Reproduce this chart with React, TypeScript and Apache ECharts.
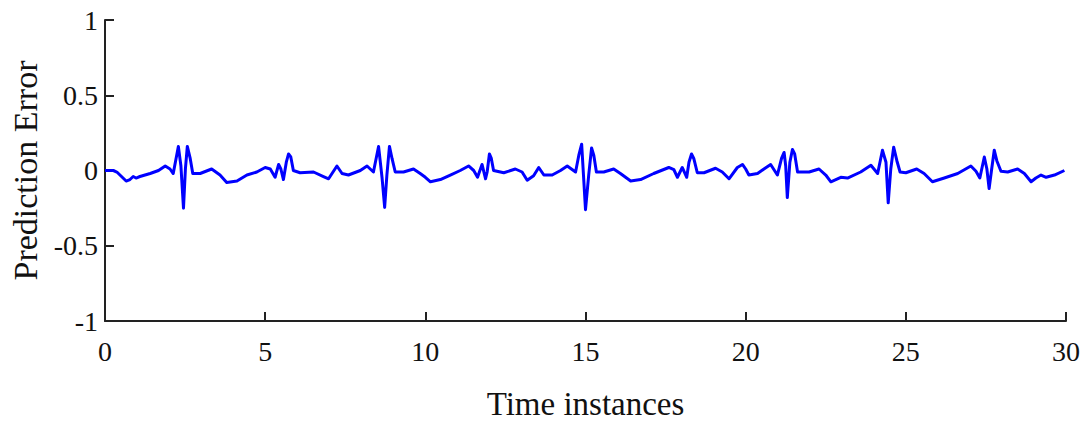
import React, { useEffect, useRef } from "react";
import * as echarts from "echarts";

const timeValues: number[] = [
  0.0, 0.26, 0.37, 0.66, 0.78, 0.88, 0.97, 1.09, 1.41, 1.67, 1.88, 2.03, 2.13, 2.29, 2.37, 2.45, 2.51, 2.57, 2.66, 2.74,
  2.97, 3.33, 3.59, 3.8, 4.12, 4.43, 4.74, 5.0, 5.16, 5.31, 5.42, 5.49, 5.57, 5.66, 5.73, 5.8, 5.88, 6.09, 6.51, 6.82,
  6.98, 7.24, 7.4, 7.6, 7.97, 8.18, 8.38, 8.54, 8.65, 8.73, 8.8, 8.88, 8.96, 9.06, 9.32, 9.63, 9.84, 10.0, 10.16, 10.47,
  10.78, 11.09, 11.35, 11.51, 11.63, 11.77, 11.88, 11.93, 12.0, 12.06, 12.13, 12.45, 12.81, 13.02, 13.18, 13.38, 13.54,
  13.7, 13.96, 14.22, 14.43, 14.69, 14.79, 14.88, 15.0, 15.1, 15.19, 15.26, 15.34, 15.57, 15.88, 16.09, 16.41, 16.72,
  17.13, 17.6, 17.76, 17.87, 18.02, 18.16, 18.23, 18.31, 18.38, 18.49, 18.7, 19.06, 19.27, 19.48, 19.74, 19.9, 20.0,
  20.1, 20.37, 20.57, 20.78, 20.99, 21.12, 21.2, 21.25, 21.3, 21.38, 21.46, 21.53, 21.62, 21.98, 22.29, 22.5, 22.66,
  22.97, 23.18, 23.59, 23.91, 24.12, 24.27, 24.38, 24.45, 24.53, 24.62, 24.72, 24.82, 25.0, 25.34, 25.57, 25.83, 26.2,
  26.62, 27.03, 27.19, 27.31, 27.45, 27.53, 27.6, 27.68, 27.76, 27.84, 27.97, 28.18, 28.49, 28.7, 28.91, 29.06, 29.22,
  29.38, 29.64, 29.95,
];

const errorValues: number[] = [
  0.0, 0.0, -0.01, -0.07, -0.06, -0.04, -0.05, -0.04, -0.02, 0.0, 0.03, 0.01, -0.02, 0.16, 0.03, -0.25, 0.01, 0.16, 0.08, -0.02,
  -0.02, 0.01, -0.03, -0.08, -0.07, -0.03, -0.01, 0.02, 0.01, -0.045, 0.04, 0.01, -0.06, 0.055, 0.11, 0.09, 0.0, -0.015, -0.01, -0.04,
  -0.055, 0.03, -0.02, -0.03, 0.0, 0.03, -0.01, 0.16, -0.05, -0.245, -0.03, 0.16, 0.08, -0.01, -0.01, 0.01, -0.02, -0.045, -0.075, -0.06,
  -0.03, 0.0, 0.03, 0.0, -0.045, 0.04, -0.055, -0.01, 0.11, 0.08, 0.0, -0.015, 0.01, -0.01, -0.065, -0.035, 0.02,
  -0.03, -0.03, 0.0, 0.03, -0.01, 0.1, 0.175, -0.26, -0.03, 0.15, 0.1, -0.01, -0.01, 0.01, -0.02, -0.07, -0.06,
  -0.02, 0.02, 0.005, -0.045, 0.02, -0.045, 0.055, 0.11, 0.08, -0.015, -0.015, 0.015, -0.01, -0.055, 0.02, 0.04, 0.01,
  -0.03, -0.02, 0.01, 0.04, -0.03, 0.08, 0.12, 0.03, -0.18, 0.055, 0.14, 0.11, -0.01, -0.01, 0.01, -0.03, -0.075,
  -0.045, -0.05, -0.01, 0.035, -0.02, 0.135, 0.055, -0.215, 0.01, 0.155, 0.065, -0.01, -0.015, 0.01, -0.02, -0.075, -0.05,
  -0.02, 0.03, -0.005, -0.05, 0.09, 0.01, -0.12, 0.01, 0.135, 0.065, -0.005, -0.01, 0.01, -0.02, -0.075, -0.05, -0.03,
  -0.045, -0.03, 0.0,
];

const xTitle = "Time instances";
const yTitle = "Prediction Error";

export default function App() {
  const ref = useRef<HTMLDivElement>(null);
  useEffect(() => {
    document.body.style.margin = "0";
    if (!ref.current) return;
    const chart = echarts.init(ref.current, null, { renderer: "svg" });
    const font = "'Liberation Serif', 'Times New Roman', serif";
    const axisLine = { show: true, onZero: false, lineStyle: { color: "#222", width: 2 } };
    const axisTick = { show: true, inside: true, length: 9, lineStyle: { color: "#222", width: 2 } };
    chart.setOption({
      animation: false,
      backgroundColor: "#fff",
      grid: { left: 105, right: 26, top: 20, bottom: 100, containLabel: false, outerBoundsMode: "none" },
      xAxis: {
        type: "value",
        min: 0,
        max: 30,
        interval: 5,
        name: xTitle,
        nameLocation: "middle",
        nameGap: 66,
        nameTextStyle: { fontFamily: font, fontSize: 33, lineHeight: 33, color: "#111" },
        axisLine,
        axisTick,
        axisLabel: { fontFamily: font, fontSize: 28, color: "#111", margin: 16 },
        splitLine: { show: false },
      },
      yAxis: {
        type: "value",
        min: -1,
        max: 1,
        interval: 0.5,
        name: yTitle,
        nameLocation: "middle",
        nameGap: 60,
        nameTextStyle: { fontFamily: font, fontSize: 34, color: "#111" },
        axisLine,
        axisTick,
        axisLabel: { fontFamily: font, fontSize: 28, color: "#111", margin: 7 },
        splitLine: { show: false },
      },
      series: [
        {
          type: "line",
          data: timeValues.map((t, i) => [t, errorValues[i]]),
          showSymbol: false,
          symbol: "none",
          lineStyle: { color: "#0000ff", width: 3, join: "round" },
          z: 1,
        },
      ],
    });
    return () => chart.dispose();
  }, []);
  return <div ref={ref} style={{ width: 1092, height: 421 }} />;
}
